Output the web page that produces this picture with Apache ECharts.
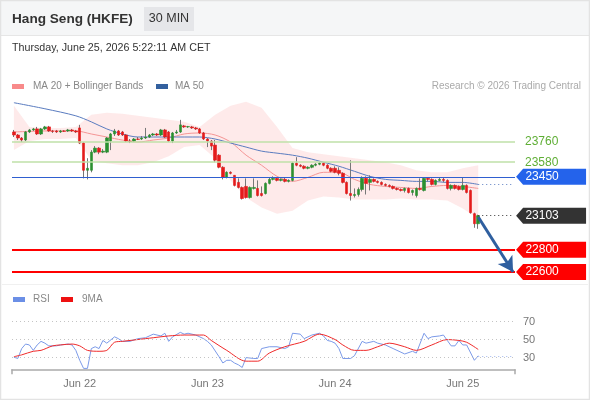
<!DOCTYPE html>
<html><head><meta charset="utf-8">
<script src="https://cdn.jsdelivr.net/npm/echarts@6.0.0/dist/echarts.min.js"></script>
<style>html,body{margin:0;padding:0;background:#fff}#c{width:590px;height:400px}</style>
</head><body><div id="c"></div>
<script>
// ---- data ----
const slotCount = 130;
const dayLabels = ['Jun 22','Jun 23','Jun 24','Jun 25'];
const dayIndex = [17, 50, 83, 116];

const open = [23850,23823,23796,23778,23850,23868,23877,23832,23877,23895,
23859,23859,23850,23859,23859,23868,23859,23886,23751,23508,
23508,23670,23706,23670,23670,23769,23832,23859,23850,23823,
23769,23769,23787,23787,23796,23805,23823,23832,23823,23868,
23850,23769,23841,23850,23904,23895,23895,23886,23877,23841,
23787,23769,23733,23643,23535,23445,23490,23463,23400,23355,
23364,23265,23346,23346,23301,23301,23391,23427,23436,23418,
23427,23409,23418,23571,23553,23544,23526,23535,23553,23562,
23571,23553,23526,23526,23508,23481,23400,23301,23283,23292,
23337,23436,23400,23427,23409,23400,23382,23373,23364,23346,
23337,23328,23346,23310,23283,23346,23328,23436,23427,23382,
23418,23427,23418,23346,23373,23364,23337,23373,23328,23121,
23031];
const close = [23823,23796,23778,23850,23868,23877,23832,23877,23895,23859,
23855,23850,23859,23856,23868,23859,23850,23751,23508,23526,
23670,23706,23670,23679,23796,23832,23859,23823,23823,23769,
23766,23787,23784,23796,23805,23823,23832,23823,23868,23805,
23769,23841,23850,23913,23895,23898,23886,23877,23841,23787,
23769,23724,23598,23535,23445,23490,23481,23373,23355,23256,
23265,23355,23355,23283,23283,23391,23427,23436,23418,23427,
23409,23418,23571,23553,23544,23526,23535,23553,23562,23571,
23553,23526,23499,23490,23481,23400,23301,23283,23292,23337,
23436,23391,23427,23409,23400,23382,23373,23364,23346,23337,
23328,23346,23310,23328,23346,23337,23436,23427,23382,23418,
23427,23418,23346,23373,23346,23337,23373,23310,23130,23031,
23103];
const high = [23868,23832,23805,23859,23877,23886,23895,23886,23904,23904,
23868,23868,23868,23866,23877,23877,23868,23913,23760,23616,
23688,23724,23715,23697,23805,23841,23877,23868,23859,23832,
23787,23796,23805,23814,23886,23832,23841,23841,23877,23877,
23859,23850,23868,23958,23913,23904,23904,23895,23886,23850,
23796,23778,23778,23652,23544,23499,23499,23463,23436,23364,
23436,23364,23436,23418,23364,23400,23445,23454,23445,23436,
23445,23427,23580,23625,23562,23553,23544,23562,23571,23580,
23580,23562,23535,23544,23535,23490,23409,23598,23346,23355,
23454,23454,23463,23436,23418,23409,23391,23382,23373,23355,
23346,23355,23355,23337,23355,23436,23445,23445,23436,23427,
23445,23445,23427,23382,23382,23373,23445,23382,23337,23130,
23112];
const low = [23805,23778,23760,23769,23841,23859,23823,23823,23868,23850,
23841,23841,23841,23850,23850,23850,23841,23742,23436,23427,
23490,23661,23652,23661,23661,23688,23814,23814,23814,23760,
23751,23760,23778,23778,23787,23796,23814,23814,23814,23796,
23760,23751,23832,23841,23886,23886,23877,23868,23832,23778,
23715,23688,23580,23526,23427,23436,23472,23364,23346,23247,
23256,23256,23337,23274,23274,23292,23382,23418,23409,23409,
23400,23400,23409,23544,23535,23517,23517,23526,23544,23553,
23544,23517,23490,23481,23463,23391,23292,23238,23265,23274,
23319,23292,23328,23400,23391,23373,23364,23355,23337,23328,
23319,23310,23301,23283,23265,23328,23319,23409,23373,23373,
23409,23400,23337,23328,23337,23328,23328,23301,23121,22995,
22986];

// indicator samples (category index, value)
const sampleIdx = [0,4,8,12,16,20,24,28,32,36,40,44,48,52,56,60,64,68,72,76,80,84,88,92,96,100,104,108,112,116,120];
const bbUpper = [24084,23895,23886,23886,23895,24003,24021,24012,23994,23976,23958,23940,23895,24003,24084,24120,24066,23895,23706,23670,23652,23634,23616,23598,23580,23553,23508,23490,23490,23526,23553];
const bbLower = [23688,23769,23787,23787,23796,23598,23571,23553,23553,23580,23634,23715,23733,23616,23418,23265,23175,23121,23148,23238,23274,23265,23247,23247,23247,23256,23247,23247,23238,23166,23076];
const ma20 = [23850,23855,23859,23859,23859,23832,23805,23778,23760,23778,23796,23832,23841,23823,23760,23643,23553,23454,23409,23445,23490,23490,23427,23382,23364,23355,23346,23364,23373,23364,23346];
const ma50Idx = [0,8,16,20,24,28,32,40,48,52,56,60,64,68,72,76,80,84,88,92,96,100,104,108,112,116,120];
const ma50 = [24111,24057,23994,23940,23877,23832,23805,23805,23805,23787,23751,23715,23679,23661,23643,23616,23580,23544,23499,23454,23427,23418,23409,23409,23400,23400,23382];

const rsiIdx = [0,1,2,3,4,5,6,7,8,9,11,12,14,15,16,17,18,19,20,21,22,23,24,26,27,28,30,32,34,36,38,39,40,41,43,44,45,47,49,50,51,53,54,55,56,57,58,59,60,62,63,64,66,68,70,71,72,74,75,77,79,80,81,82,83,84,85,87,88,90,91,93,94,96,98,99,101,103,104,106,107,108,110,111,112,113,114,115,116,117,119,120];
const rsi = [30.4,29,40,45,44,38,44,48,46,43,43,44,45,44,38,27,18,18,40,42,40,49,46,53,51,48,48,51,52,56,54,57,48,53,58,56,57,55,51,48,44,31,24,27,27,24,22,19,30,29,29,40,42,42,40,42,57,56,51,55,57,54,49,48,46,40,29,29,32,48,46,48,46,44,40,38,34,37,35,57,51,53,54,55,49,43,43,49,44,44,27,32];
const ma9Idx = [0,2,5,7,10,12,15,17,19,22,24,26,28,32,36,40,44,47,49,51,55,60,63,66,70,75,79,83,85,88,91,94,97,101,104,108,112,115,117,120];
const ma9 = [31,33,37,38,43,44,45,43,38,37,38,47,48,50,52,54,55,55,55,49,38,26,26,35,42,48,56,50,44,38,38,42,46,42,38,44,50,49,47,39];

const levels = {resist2: 23760, resist1: 23580, pivot: 23450, last: 23103, support1: 22800, support2: 22600};
const rsiLevels = [70, 50, 30];

// ---- build ----
const cats = [];
for (let i = 0; i < slotCount; i++) { const k = dayIndex.indexOf(i); cats.push(k >= 0 ? dayLabels[k] : ''); }
const last = open.length - 1;
const wickData = open.map((o, i) => [o, close[i], low[i], high[i]]);
const bodyData = open.map((o, i) => [o, close[i], Math.min(o, close[i]), Math.max(o, close[i])]);
const pairs = (idx, vals) => idx.map((x, i) => [x, vals[i]]);
const bbWidth = bbUpper.map((u, i) => u - bbLower[i]);

const FONT = '"Liberation Sans", Arial, sans-serif';
const tag = 'path://M0,8 L7,0 L70,0 L70,16 L7,16 Z';
function tagPoint(v, color) {
  return { coord: [slotCount - 1, v], value: v, symbol: tag, symbolSize: [70, 16], symbolOffset: [38, 0],
    itemStyle: { color: color },
    label: { show: true, position: 'inside', offset: [-9, 0], color: '#fff', fontSize: 12, fontFamily: FONT, formatter: String(v) } };
}

const chart = echarts.init(document.getElementById('c'), null, { renderer: 'canvas' });
chart.setOption({
  animation: false,
  backgroundColor: '#fff',
  textStyle: { fontFamily: FONT },
  grid: [
    { left: 12, right: 75, top: 98, height: 185.6 },
    { left: 12, right: 75, top: 308, height: 61.3 }
  ],
  xAxis: [
    { type: 'category', data: cats, gridIndex: 0, boundaryGap: true, show: false },
    { type: 'category', data: cats, gridIndex: 1, boundaryGap: true,
      axisLine: { lineStyle: { color: '#aaa', width: 1.5 } },
      axisTick: { show: true, interval: (i) => i === 0, length: 5, lineStyle: { color: '#aaa', width: 1.5 } },
      axisLabel: { interval: 0, color: '#777', fontSize: 11, margin: 9, fontFamily: FONT },
      splitLine: { show: false } }
  ],
  yAxis: [
    { type: 'value', gridIndex: 0, min: 22497, max: 24153, show: false },
    { type: 'value', gridIndex: 1, min: 17, max: 85, show: false }
  ],
  graphic: [
    { type: 'rect', z: -10, shape: { x: 0, y: 0, width: 590, height: 35 }, style: { fill: '#f5f6f7' } },
    { type: 'line', shape: { x1: 0, y1: 35.5, x2: 590, y2: 35.5 }, style: { stroke: '#e6e6e6', lineWidth: 1 } },
    { type: 'rect', shape: { x: 0.5, y: 0.5, width: 589, height: 399 }, style: { fill: 'none', stroke: '#e3e3e3', lineWidth: 1.5 } },
    { type: 'line', shape: { x1: 2, y1: 284.5, x2: 588, y2: 284.5 }, style: { stroke: '#f0f0f0', lineWidth: 1 } },
    { type: 'text', style: { x: 12, y: 19, text: 'Hang Seng (HKFE)', font: 'bold 13.6px ' + FONT, fill: '#333', verticalAlign: 'middle' } },
    { type: 'rect', shape: { x: 144, y: 7, width: 50, height: 24 }, style: { fill: '#e5e6e9' } },
    { type: 'text', style: { x: 169, y: 19, text: '30 MIN', font: '12.5px ' + FONT, fill: '#333', align: 'center', verticalAlign: 'middle' } },
    { type: 'text', style: { x: 12, y: 48, text: 'Thursday, June 25, 2026 5:22:11 AM CET', font: '10.7px ' + FONT, fill: '#333', verticalAlign: 'middle' } },
    { type: 'rect', shape: { x: 12, y: 84, width: 12, height: 5 }, style: { fill: '#f88a8a' } },
    { type: 'text', style: { x: 33, y: 86.5, text: 'MA 20 + Bollinger Bands', font: '10px ' + FONT, fill: '#888', verticalAlign: 'middle' } },
    { type: 'rect', shape: { x: 156, y: 84, width: 12, height: 5 }, style: { fill: '#33609e' } },
    { type: 'text', style: { x: 175, y: 86.5, text: 'MA 50', font: '10px ' + FONT, fill: '#888', verticalAlign: 'middle' } },
    { type: 'text', style: { x: 581, y: 86.5, text: 'Research © 2026 Trading Central', font: '10px ' + FONT, fill: '#aaa', align: 'right', verticalAlign: 'middle' } },
    { type: 'rect', shape: { x: 13, y: 297, width: 12, height: 5 }, style: { fill: '#6b8fe6' } },
    { type: 'text', style: { x: 33, y: 299.5, text: 'RSI', font: '10px ' + FONT, fill: '#888', verticalAlign: 'middle' } },
    { type: 'rect', shape: { x: 61, y: 297, width: 12, height: 5 }, style: { fill: '#ee1111' } },
    { type: 'text', style: { x: 82, y: 299.5, text: '9MA', font: '10px ' + FONT, fill: '#888', verticalAlign: 'middle' } }
  ],
  series: [
    { name: 'bbLower', type: 'line', xAxisIndex: 0, yAxisIndex: 0, data: pairs(sampleIdx, bbLower), stack: 'bb',
      symbol: 'none', lineStyle: { width: 0, opacity: 0 }, silent: true, z: 1 },
    { name: 'bbWidth', type: 'line', xAxisIndex: 0, yAxisIndex: 0, data: pairs(sampleIdx, bbWidth), stack: 'bb',
      symbol: 'none', lineStyle: { width: 0, opacity: 0 }, areaStyle: { color: 'rgba(251,190,190,0.45)' }, silent: true, z: 1 },
    { name: 'MA20', type: 'line', xAxisIndex: 0, yAxisIndex: 0, data: pairs(sampleIdx, ma20), symbol: 'none', smooth: 0.3,
      lineStyle: { color: '#f59595', width: 1 }, silent: true, z: 2 },
    { name: 'MA50', type: 'line', xAxisIndex: 0, yAxisIndex: 0, data: pairs(ma50Idx, ma50), symbol: 'none', smooth: 0.3,
      lineStyle: { color: '#5a7cc0', width: 1 }, silent: true, z: 2,
      markLine: { silent: true, symbol: 'none', label: { show: false },
        lineStyle: { color: '#5a7cc0', type: [1, 3], width: 1 },
        data: [[{ coord: [ma50Idx[ma50Idx.length - 1], ma50[ma50.length - 1]] }, { coord: [slotCount - 1, ma50[ma50.length - 1]] }]] } },
    { name: 'wick', type: 'candlestick', xAxisIndex: 0, yAxisIndex: 0, data: wickData, barWidth: 1, silent: true, z: 3,
      itemStyle: { color: '#777', color0: '#777', borderColor: '#777', borderColor0: '#777', borderWidth: 1 } },
    { name: 'body', type: 'candlestick', xAxisIndex: 0, yAxisIndex: 0, data: bodyData, barWidth: 3, silent: true, z: 4, clip: false,
      itemStyle: { color: '#2b9030', color0: '#e41b1b', borderColor: '#2b9030', borderColor0: '#e41b1b', borderWidth: 0.6 },
      markLine: { silent: true, symbol: 'none', z: 5,
        label: { show: false },
        data: [
          { yAxis: levels.resist2, lineStyle: { color: '#bfe0a8', width: 1.5, type: 'solid' },
            label: { show: true, position: 'end', distance: 10, formatter: String(levels.resist2), color: '#5fae35', fontSize: 12, fontFamily: FONT } },
          { yAxis: levels.resist1, lineStyle: { color: '#bfe0a8', width: 1.5, type: 'solid' },
            label: { show: true, position: 'end', distance: 10, formatter: String(levels.resist1), color: '#5fae35', fontSize: 12, fontFamily: FONT } },
          { yAxis: levels.pivot, lineStyle: { color: '#2f5fd0', width: 1.2, type: 'solid' } },
          { yAxis: levels.support1, lineStyle: { color: '#ff0000', width: 2, type: 'solid' } },
          { yAxis: levels.support2, lineStyle: { color: '#ff0000', width: 2, type: 'solid' } },
          [{ coord: [last, levels.last], lineStyle: { color: '#333', width: 1, type: [1, 3] } }, { coord: [slotCount - 1, levels.last] }],
          [{ coord: [last, close[last] - 12], lineStyle: { color: '#2f5f9f', width: 3, type: 'solid' } },
           { coord: [slotCount - 1, levels.support2], symbol: 'arrow', symbolSize: [13, 15] }]
        ] },
      markPoint: { silent: true, z: 6, data: [
        tagPoint(levels.pivot, '#2463eb'),
        tagPoint(levels.last, '#333333'),
        tagPoint(levels.support1, '#ff0000'),
        tagPoint(levels.support2, '#ff0000')
      ] } },
    { name: 'RSI', type: 'line', xAxisIndex: 1, yAxisIndex: 1, data: pairs(rsiIdx, rsi), symbol: 'none',
      lineStyle: { color: '#7b9ae8', width: 1 }, silent: true, z: 3,
      markLine: { silent: true, symbol: 'none',
        data: rsiLevels.map(v => ({ yAxis: v, lineStyle: { color: '#c4c4c4', type: [1, 3], width: 1 },
          label: { show: true, position: 'end', distance: 8, formatter: String(v), color: '#777', fontSize: 11, fontFamily: FONT } }))
          .concat([[{ coord: [rsiIdx[rsiIdx.length - 1], rsi[rsi.length - 1]], lineStyle: { color: '#9fb5ee', type: [1, 3], width: 1 }, label: { show: false } },
                    { coord: [slotCount - 1, rsi[rsi.length - 1]] }]]) } },
    { name: '9MA', type: 'line', xAxisIndex: 1, yAxisIndex: 1, data: pairs(ma9Idx, ma9), symbol: 'none', smooth: 0.3,
      lineStyle: { color: '#f02a2a', width: 1 }, silent: true, z: 4 }
  ]
});
</script></body></html>
